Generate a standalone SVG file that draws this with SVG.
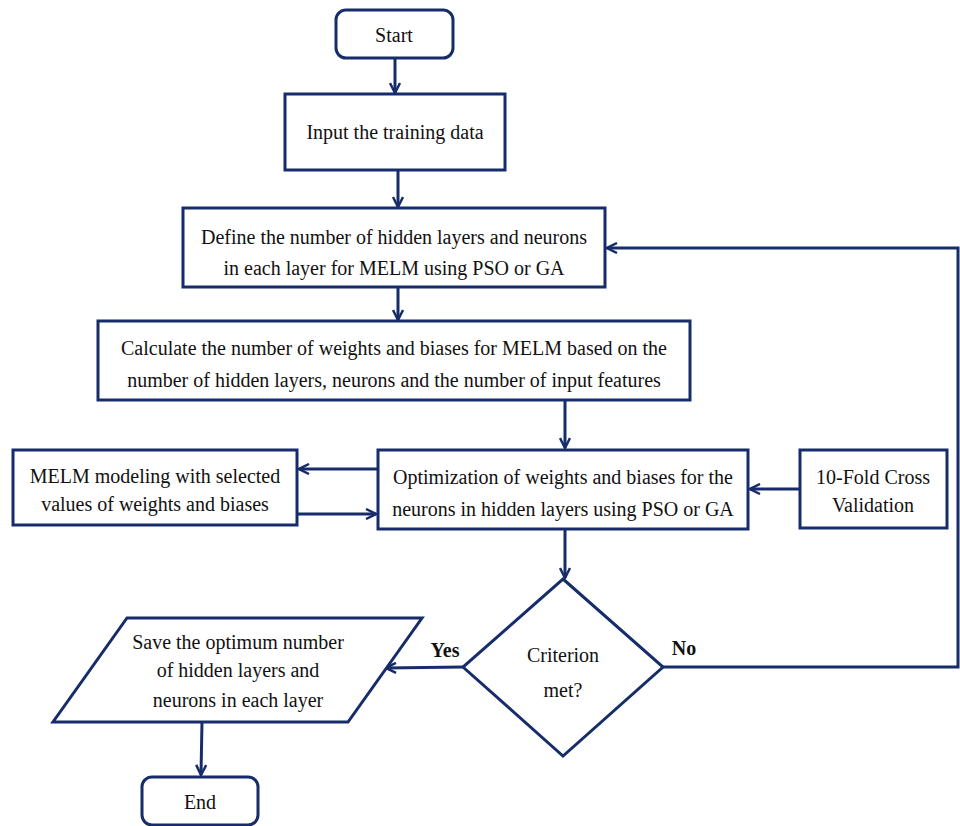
<svg xmlns="http://www.w3.org/2000/svg" width="960" height="826" viewBox="0 0 960 826">
<defs>
<style>
.n{fill:#fff;stroke:#172d6b;stroke-width:3}
.t{font-family:"Liberation Serif",serif;font-size:20px;fill:#111;text-anchor:middle}
.b{font-weight:bold}
.c{fill:none;stroke:#172d6b;stroke-width:3}
</style>
<marker id="a" viewBox="0 0 12 12" refX="11" refY="6" markerWidth="12" markerHeight="12" markerUnits="userSpaceOnUse" orient="auto">
<path d="M1,1 L11,6 L1,11" fill="none" stroke="#172d6b" stroke-width="2.5"/>
</marker>
</defs>
<rect width="960" height="826" fill="#fff"/>
<g id="connectors">
<path class="c" d="M395,58 V93" marker-end="url(#a)"/>
<path class="c" d="M398,170 V207" marker-end="url(#a)"/>
<path class="c" d="M398,287 V320" marker-end="url(#a)"/>
<path class="c" d="M565,400 V448" marker-end="url(#a)"/>
<path class="c" d="M378,469 H299" marker-end="url(#a)"/>
<path class="c" d="M297,514 H376" marker-end="url(#a)"/>
<path class="c" d="M800,489 H750" marker-end="url(#a)"/>
<path class="c" d="M565,529 V578" marker-end="url(#a)"/>
<path class="c" d="M663,667 H958 V248 H607" marker-end="url(#a)"/>
<path class="c" d="M463,667 L386,668" marker-end="url(#a)"/>
<path class="c" d="M202,722 L201,775" marker-end="url(#a)"/>
</g>
<g id="start"><rect class="n" x="336" y="10" width="117" height="48" rx="10"/><text class="t" x="394" y="42">Start</text></g>
<g id="input"><rect class="n" x="285" y="94" width="220" height="76"/><text class="t" x="395" y="139">Input the training data</text></g>
<g id="define"><rect class="n" x="183" y="208" width="422" height="79"/><text class="t" x="394" y="244">Define the number of hidden layers and neurons</text><text class="t" x="394" y="275">in each layer for MELM using PSO or GA</text></g>
<g id="calc"><rect class="n" x="98" y="321" width="592" height="79"/><text class="t" x="394" y="355">Calculate the number of weights and biases for MELM based on the</text><text class="t" x="394" y="387">number of hidden layers, neurons and the number of input features</text></g>
<g id="melm"><rect class="n" x="13" y="450" width="284" height="75"/><text class="t" x="155" y="483">MELM modeling with selected</text><text class="t" x="155" y="511">values of weights and biases</text></g>
<g id="opt"><rect class="n" x="378" y="450" width="370" height="79"/><text class="t" x="563" y="484">Optimization of weights and biases for the</text><text class="t" x="563" y="516">neurons in hidden layers using PSO or GA</text></g>
<g id="cv"><rect class="n" x="800" y="450" width="147" height="78"/><text class="t" x="873" y="484">10-Fold Cross</text><text class="t" x="873" y="512">Validation</text></g>
<g id="decision"><polygon class="n" points="563,579 663,667 563,756 463,667"/><text class="t" x="563" y="662">Criterion</text><text class="t" x="563" y="697">met?</text></g>
<text class="t b" x="445" y="657">Yes</text>
<text class="t b" x="684" y="655">No</text>
<g id="save"><polygon class="n" points="127,618 422,618 348,722 53,722"/><text class="t" x="238" y="649">Save the optimum number</text><text class="t" x="238" y="677">of hidden layers and</text><text class="t" x="238" y="707">neurons in each layer</text></g>
<g id="end"><rect class="n" x="142" y="777" width="116" height="48" rx="10"/><text class="t" x="200" y="809">End</text></g>
</svg>
